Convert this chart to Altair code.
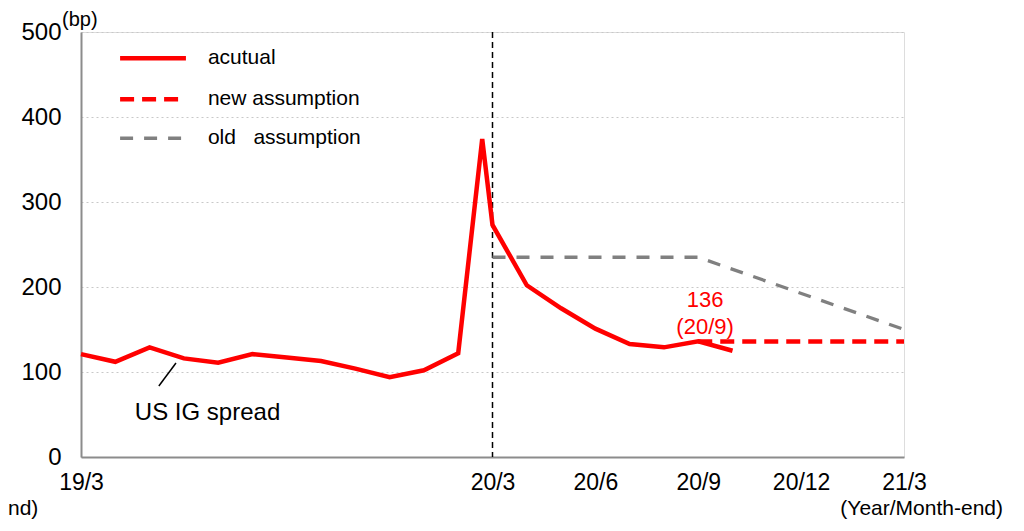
import altair as alt
import pandas as pd

# ---- data ----
month_idx_actual = [0, 1, 2, 3, 4, 5, 6, 7, 8, 9, 10, 11, 11.7, 12, 13, 14, 15, 16, 17, 18, 19]
spread_actual = [121, 112, 129, 116, 111, 121, 117, 113, 104, 94, 102, 122, 374, 273, 202, 175, 151, 133, 129, 136, 125]
month_idx_new = [18, 24]
spread_new = [136, 136]
month_idx_old = [12, 18, 24]
spread_old = [235, 235, 150]

tick_positions = [0, 12, 15, 18, 21, 24]
tick_labels = ["19/3", "20/3", "20/6", "20/9", "20/12", "21/3"]
y_ticks = [0, 100, 200, 300, 400, 500]

legend_labels = ["acutual", "new assumption", "old\u00a0\u00a0\u00a0assumption"]
legend_rows = [469, 421, 375]

FONT = "Liberation Sans"
RED = "#ff0000"
GRAY = "#808080"

label_array = [""] * 25
for p, l in zip(tick_positions, tick_labels):
    label_array[p] = l
label_expr = "[" + ",".join("'" + s + "'" for s in label_array) + "][datum.value]"

xscale = alt.Scale(domain=[0, 24], nice=False, zero=False)
yscale = alt.Scale(domain=[0, 500], nice=False, zero=True)

x_axis = alt.Axis(values=tick_positions, labelExpr=label_expr, title=None, grid=False,
                  ticks=False, tickSize=0, labelFontSize=23, labelPadding=14, labelFlush=False,
                  domainColor="#8c8c8c", domainWidth=2, labelColor="#000000", labelFont=FONT)
y_axis = alt.Axis(values=y_ticks, title=None, grid=True, gridDash=[2, 3], gridColor="#c8c8c8",
                  gridWidth=1, ticks=False, tickSize=0, labelFontSize=24, labelPadding=20,
                  domainColor="#8c8c8c", domainWidth=2, labelColor="#000000", labelFont=FONT)

df_actual = pd.DataFrame({"m": month_idx_actual, "v": spread_actual})
df_new = pd.DataFrame({"m": month_idx_new, "v": spread_new})
df_old = pd.DataFrame({"m": month_idx_old, "v": spread_old})

base_axes = alt.Chart(df_actual).mark_line(opacity=0).encode(
    x=alt.X("m:Q", scale=xscale, axis=x_axis),
    y=alt.Y("v:Q", scale=yscale, axis=y_axis),
)

vline = alt.Chart(pd.DataFrame({"m": [12]})).mark_rule(
    color="#000000", strokeWidth=1.5, strokeDash=[6, 4]
).encode(x=alt.X("m:Q", scale=xscale))

old_line = alt.Chart(df_old).mark_line(
    color=GRAY, strokeWidth=3.3, strokeDash=[13, 11]
).encode(x=alt.X("m:Q", scale=xscale), y=alt.Y("v:Q", scale=yscale))

new_line = alt.Chart(df_new).mark_line(
    color=RED, strokeWidth=4.5, strokeDash=[14, 8]
).encode(x=alt.X("m:Q", scale=xscale), y=alt.Y("v:Q", scale=yscale))

actual_line = alt.Chart(df_actual).mark_line(
    color=RED, strokeWidth=4.5, strokeJoin="miter"
).encode(x=alt.X("m:Q", scale=xscale), y=alt.Y("v:Q", scale=yscale))

# ---- custom legend ----
leg_styles = [
    dict(color=RED, strokeWidth=4.5),
    dict(color=RED, strokeWidth=4.5, strokeDash=[14, 8]),
    dict(color=GRAY, strokeWidth=3.3, strokeDash=[13, 11]),
]
legend_layers = []
for row, style in zip(legend_rows, leg_styles):
    legend_layers.append(
        alt.Chart(pd.DataFrame({"m": [1.14, 3.06], "v": [row, row]})).mark_line(**style).encode(
            x=alt.X("m:Q", scale=xscale), y=alt.Y("v:Q", scale=yscale))
    )
legend_text = alt.Chart(pd.DataFrame({"m": [3.7] * 3, "v": legend_rows, "t": legend_labels})).mark_text(
    align="left", baseline="middle", fontSize=21, font=FONT, color="#000000"
).encode(x=alt.X("m:Q", scale=xscale), y=alt.Y("v:Q", scale=yscale), text="t:N")

# ---- annotations ----
ann_text = alt.Chart(pd.DataFrame({"m": [1.57], "v": [52], "t": ["US IG spread"]})).mark_text(
    align="left", baseline="middle", fontSize=24, font=FONT, color="#000000"
).encode(x=alt.X("m:Q", scale=xscale), y=alt.Y("v:Q", scale=yscale), text="t:N")

leader = alt.Chart(pd.DataFrame({"m": [2.27], "m2": [2.77], "v": [83.5], "v2": [110.6]})).mark_rule(
    color="#000000", strokeWidth=1.5
).encode(x=alt.X("m:Q", scale=xscale), x2="m2:Q", y=alt.Y("v:Q", scale=yscale), y2="v2:Q")

val_text = alt.Chart(pd.DataFrame({"m": [18.2, 18.2], "v": [185, 153], "t": ["136", "(20/9)"]})).mark_text(
    align="center", baseline="middle", fontSize=22, font=FONT, color=RED
).encode(x=alt.X("m:Q", scale=xscale), y=alt.Y("v:Q", scale=yscale), text="t:N")

bp_text = alt.Chart(pd.DataFrame({"t": ["(bp)"]})).mark_text(
    align="left", baseline="middle", fontSize=20, font=FONT, color="#000000"
).encode(x=alt.value(-19), y=alt.value(-12), text="t:N")

xunit_text = alt.Chart(pd.DataFrame({"t": ["(Year/Month-end)"]})).mark_text(
    align="right", baseline="middle", fontSize=21, font=FONT, color="#000000"
).encode(x=alt.value(922), y=alt.value(477), text="t:N")

cut_text = alt.Chart(pd.DataFrame({"t": ["nd)"]})).mark_text(
    align="left", baseline="middle", fontSize=21, font=FONT, color="#000000"
).encode(x=alt.value(-73), y=alt.value(477), text="t:N")

chart = alt.layer(
    base_axes, vline, old_line, new_line, actual_line, *legend_layers, legend_text,
    ann_text, leader, val_text, bp_text, xunit_text, cut_text
).properties(
    width=823, height=425,
    padding={"left": 73, "top": 24, "right": 112, "bottom": 66},
    autosize=alt.AutoSizeParams(type="none"),
).configure_view(
    stroke="#8c8c8c", strokeWidth=1.5
).configure(
    font=FONT, background="white"
)

chart.save("out.html", embed_options={"renderer": "svg", "actions": False})
